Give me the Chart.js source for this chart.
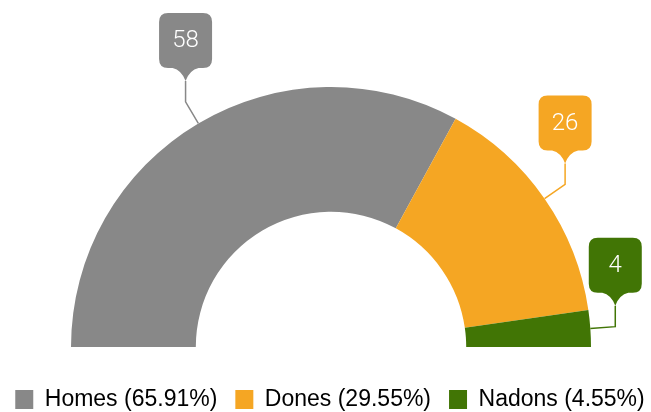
<!DOCTYPE html>
<html>
<head>
<meta charset="utf-8">
<script src="https://cdn.jsdelivr.net/npm/chart.js@4/dist/chart.umd.min.js"></script>
<style>
  html, body { margin: 0; padding: 0; background: #fff; }
  #wrap { width: 651px; height: 412px; position: relative; }
</style>
</head>
<body>
<div id="wrap"><canvas id="myChart"></canvas></div>
<script>
// Chart data
const categories = ['Homes', 'Dones', 'Nadons'];
const values = [58, 26, 4];
const colors = ['#888888', '#f5a623', '#417505'];

// Callout boxes with leader lines above each slice
const calloutPlugin = {
  id: 'callouts',
  afterDatasetsDraw(chart) {
    const ctx = chart.ctx;
    const meta = chart.getDatasetMeta(0);
    meta.data.forEach((arc, i) => {
      const p = arc.getProps(['x', 'y', 'startAngle', 'endAngle', 'outerRadius']);
      const mid = (p.startAngle + p.endAngle) / 2;
      const cos = Math.cos(mid);
      const sin = Math.sin(mid);
      const x0 = p.x + cos * p.outerRadius;
      const y0 = p.y + sin * p.outerRadius;
      const x1 = p.x + cos * (p.outerRadius + 25);
      const y1 = p.y + sin * (p.outerRadius + 25);
      const tipY = y1 - 21;

      const w = 53, h = 55, r = 9;
      const cx = x1;
      const bottom = tipY - 13;
      const top = bottom - h;
      const left = cx - w / 2;
      const right = cx + w / 2;

      ctx.save();
      // leader line
      ctx.strokeStyle = colors[i];
      ctx.lineWidth = 1.5;
      ctx.beginPath();
      ctx.moveTo(x0, y0);
      ctx.lineTo(x1, y1);
      ctx.lineTo(x1, tipY);
      ctx.stroke();

      // box with pointer
      ctx.fillStyle = colors[i];
      ctx.beginPath();
      ctx.moveTo(left + r, top);
      ctx.lineTo(right - r, top);
      ctx.quadraticCurveTo(right, top, right, top + r);
      ctx.lineTo(right, bottom - r);
      ctx.quadraticCurveTo(right, bottom, right - r, bottom);
      ctx.lineTo(cx + 13, bottom);
      ctx.quadraticCurveTo(cx + 4, bottom + 2, cx, tipY);
      ctx.quadraticCurveTo(cx - 4, bottom + 2, cx - 13, bottom);
      ctx.lineTo(left + r, bottom);
      ctx.quadraticCurveTo(left, bottom, left, bottom - r);
      ctx.lineTo(left, top + r);
      ctx.quadraticCurveTo(left, top, left + r, top);
      ctx.closePath();
      ctx.fill();

      // value
      ctx.fillStyle = '#ffffff';
      ctx.font = '300 24px Roboto, "Liberation Sans", sans-serif';
      ctx.textAlign = 'center';
      ctx.textBaseline = 'middle';
      ctx.fillText(String(values[i]), cx, top + h / 2 + 1);
      ctx.restore();
    });
  }
};

const total = values.reduce((a, b) => a + b, 0);

const ctx = document.getElementById('myChart').getContext('2d');
const myChart = new Chart(ctx, {
  type: 'doughnut',
  data: {
    labels: categories,
    datasets: [
      {
        data: values,
        backgroundColor: colors,
        borderWidth: 0,
      },
    ],
  },
  options: {
    responsive: true,
    maintainAspectRatio: false,
    animation: false,
    rotation: -90,
    circumference: 180,
    cutout: '52%',
    radius: 260,
    layout: {
      // negative sides give the wide legend room to stay on one row
      padding: { top: 64, left: -10, right: -19, bottom: -9 },
    },
    plugins: {
      tooltip: { enabled: false },
      // empty spacer on the left nudges the half ring to the right
      title: {
        display: true,
        position: 'left',
        text: ' ',
        font: { size: 10 },
        padding: { top: 5, bottom: 4 },
      },
      legend: {
        position: 'bottom',
        labels: {
          boxWidth: 18,
          boxHeight: 19,
          padding: 18,
          color: '#808080',
          font: { family: '"Liberation Sans", Arial, sans-serif', size: 23 },
          generateLabels(chart) {
            return categories.map((c, i) => ({
              text: c + ' (' + (values[i] / total * 100).toFixed(2) + '%)',
              fillStyle: colors[i],
              strokeStyle: colors[i],
              lineWidth: 0,
              index: i,
            }));
          },
        },
      },
    },
  },
  plugins: [calloutPlugin],
});
</script>
</body>
</html>
